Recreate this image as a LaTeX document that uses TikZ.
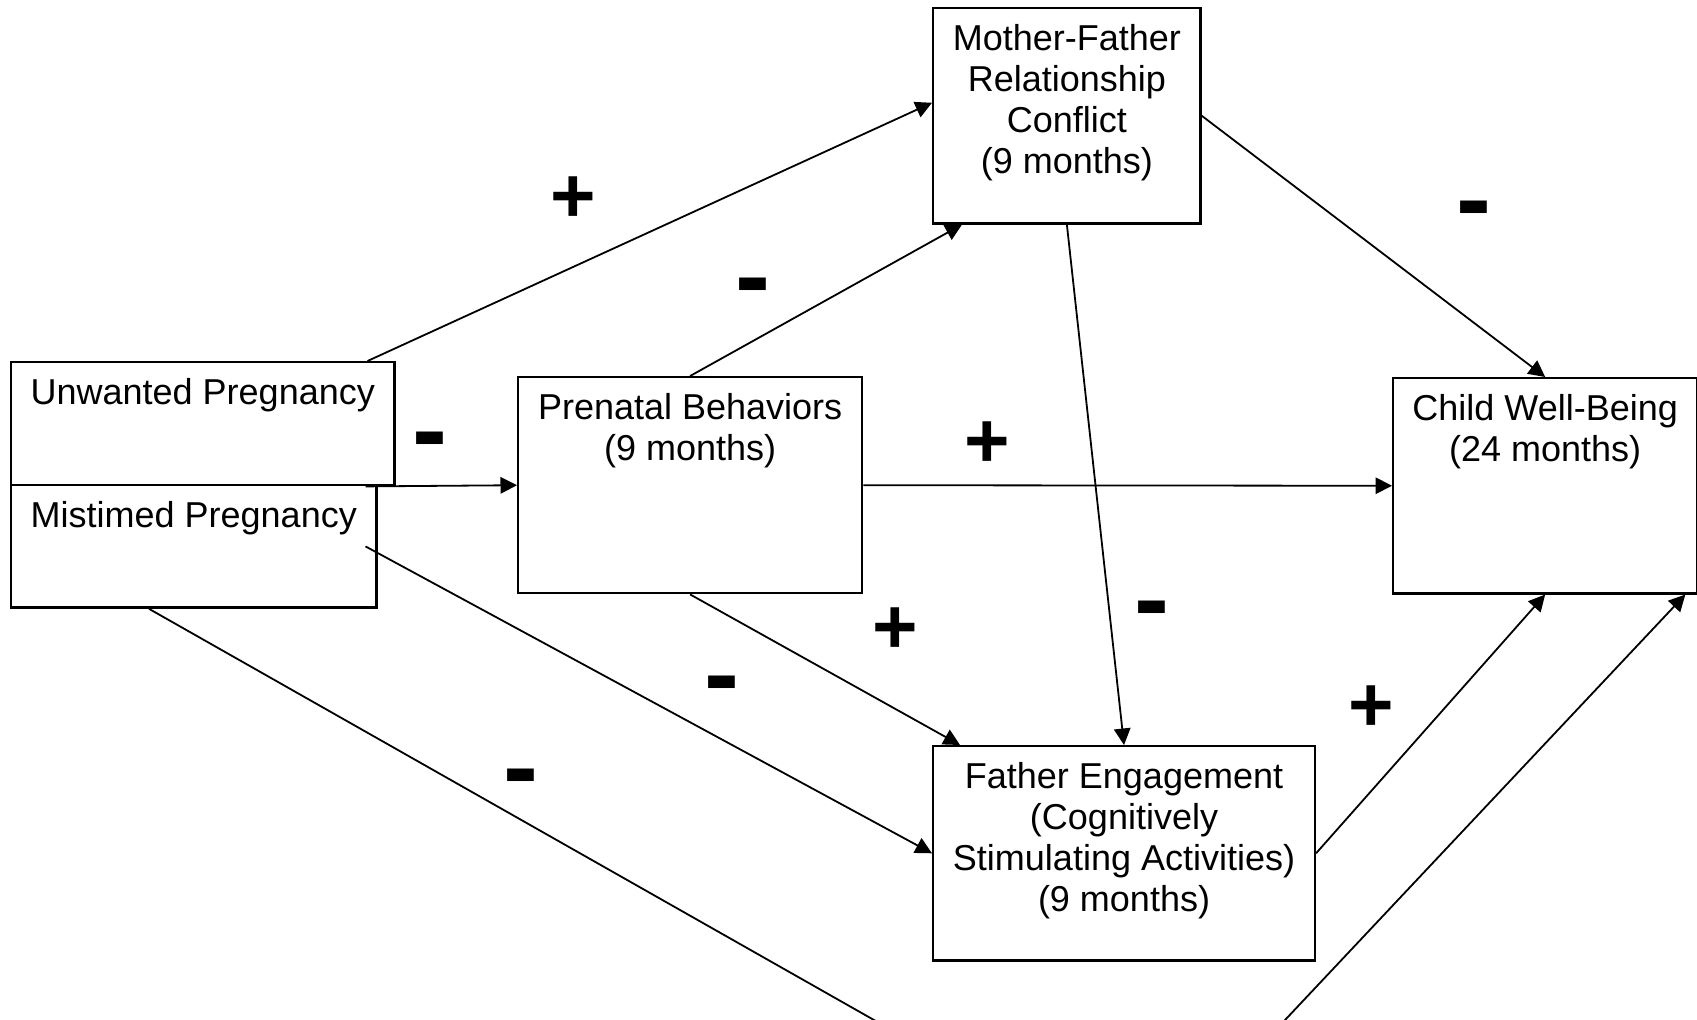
\documentclass[tikz,border=0pt]{standalone}
\usepackage{fontspec}
\setmainfont{Liberation Sans}
\usetikzlibrary{arrows.meta,positioning,calc}

\tikzset{
  box/.style={draw, line width=0.8pt, anchor=north west, inner sep=0pt},
  lbl/.style={inner sep=0pt, align=center, font=\fontsize{12}{13.7}\selectfont},
  link/.style={line width=0.6pt, -{Triangle[length=5.5pt,width=5.5pt]}},
  possign/.style={inner sep=0pt, font=\fontsize{26}{26}\selectfont\bfseries},
  negsign/.style={inner sep=0pt, yshift=-3pt, font=\fontsize{35}{35}\selectfont\bfseries}
}

\begin{document}
\begin{tikzpicture}[x=0.3333pt, y=-0.3333pt]
\useasboundingbox (0,0) rectangle (1697,1019);
\clip (0,0) rectangle (1697,1019);

% boxes
\node[box, minimum width=127.7pt, minimum height=41pt] (un) at (10,361) {};
\node[box, minimum width=121.7pt, minimum height=40.8pt] (mis) at (10,484) {};
\node[box, minimum width=114.6pt, minimum height=72pt] (pre) at (517,376) {};
\node[box, minimum width=89.1pt, minimum height=71.7pt] (mfc) at (932,7) {};
\node[box, minimum width=101.3pt, minimum height=71.7pt] (cwb) at (1392,377) {};
\node[box, minimum width=127.2pt, minimum height=71.4pt] (fe) at (932,745) {};

% box texts
\node[lbl, below=5.6pt of un.north] (un-t) {Unwanted Pregnancy};
\node[lbl, below=5.6pt of mis.north] (mis-t) {Mistimed Pregnancy};
\node[lbl, below=5.6pt of pre.north] (pre-t) {Prenatal Behaviors\\(9 months)};
\node[lbl, below=5.6pt of mfc.north] (mfc-t) {Mother-Father\\Relationship\\Conflict\\(9 months)};
\node[lbl, below=5.6pt of cwb.north] (cwb-t) {Child Well-Being\\(24 months)};
\node[lbl, below=5.6pt of fe.north] (fe-t) {Father Engagement\\(Cognitively\\Stimulating Activities)\\(9 months)};

% paths
\draw[link] ($(un.north east)+(-28,0)$) -- ($(mfc.west)+(0,-13)$);
\draw[link] ($(un.south east)+(-30,0)$) -- (pre.west);
\draw[link] (pre.north) -- ($(mfc.south west)+(30,0)$);
\draw[link] (pre.east) -- (cwb.west);
\draw[link] (mfc.east) -- (cwb.north);
\draw[link] (mfc.south) -- (fe.north);
\draw[link] (pre.south) -- ($(fe.north west)+(28,0)$);
\draw[link] ($(mis.east)+(-12,0)$) -- (fe.west);
\draw[link] (fe.east) -- (cwb.south);
\coordinate (dip) at (1142,1172);
\draw[link] ($(mis.south west)+(139,0)$) -- (dip) -- ($(cwb.south east)+(-13,0)$);

% signs
\node[possign] (s1) at (573,200) {+};
\node[negsign] (s2) at (430,440) {-};
\node[negsign] (s3) at (753,286) {-};
\node[possign] (s4) at (987,445) {+};
\node[negsign] (s5) at (1474,209) {-};
\node[negsign] (s6) at (1152,609) {-};
\node[possign] (s7) at (895,631) {+};
\node[negsign] (s8) at (722,684) {-};
\node[negsign] (s9) at (521,777) {-};
\node[possign] (s10) at (1371,709) {+};
\end{tikzpicture}
\end{document}
